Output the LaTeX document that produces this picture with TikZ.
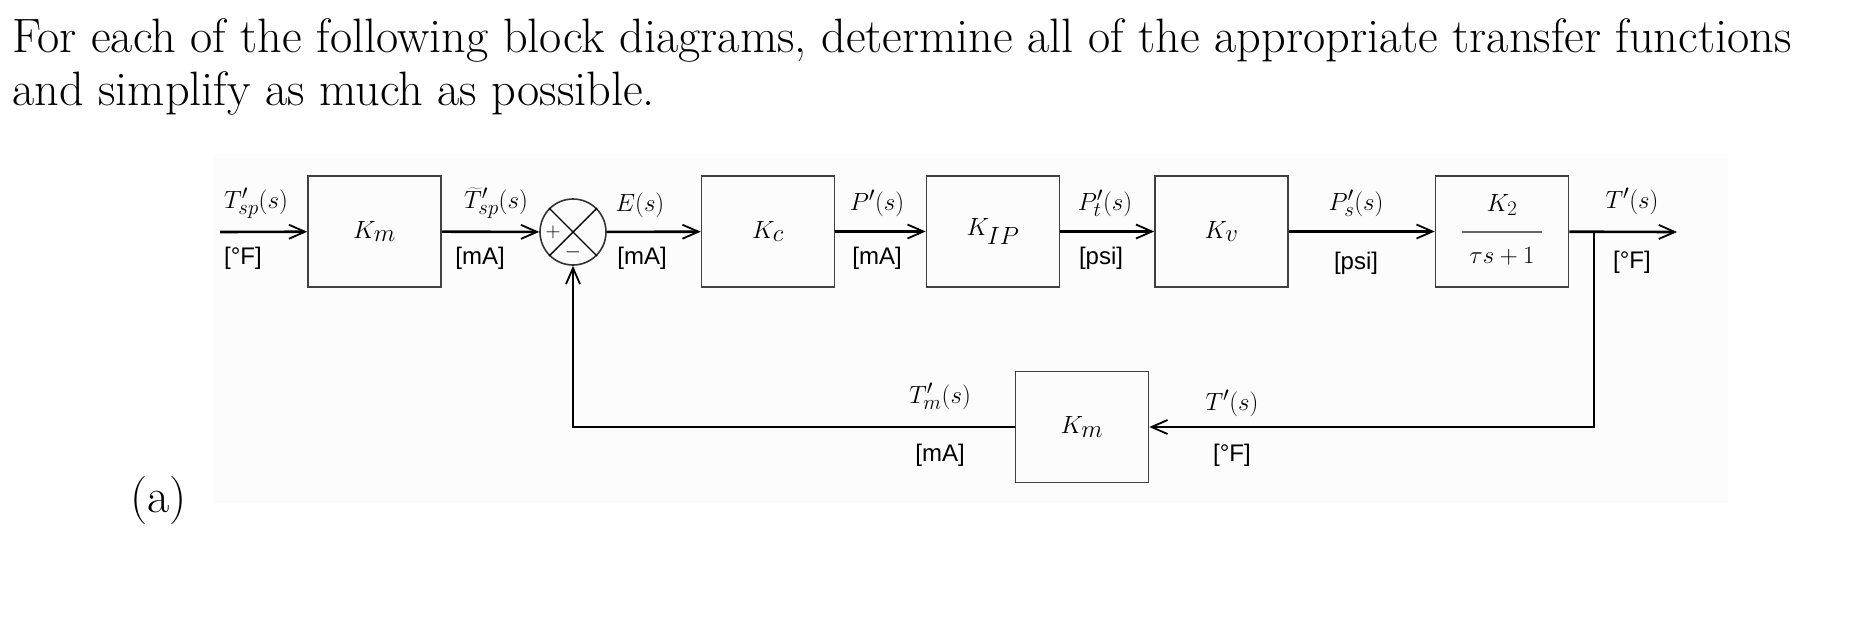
\documentclass[tikz,border=0pt]{standalone}
\usepackage{fontspec}
\usetikzlibrary{arrows.meta}
\newfontfamily\unitf{Liberation Sans}
\begin{document}
\begin{tikzpicture}[x=1pt,y=-1pt,
  blk/.style={draw=black!75,line width=1.6pt,minimum width=133pt,minimum height=111pt,inner sep=0pt,font=\fontsize{38}{42}\selectfont},
  sig/.style={line width=2.6pt,-{Straight Barb[length=16pt,width=14pt,line width=1.8pt]}},
  lab/.style={font=\fontsize{28}{32}\selectfont,inner sep=0pt},
  unit/.style={font=\unitf\fontsize{24}{28}\selectfont,inner sep=0pt},
  txt/.style={font=\fontsize{48.3}{56}\selectfont,inner sep=0pt,anchor=base west}]
\useasboundingbox (0,0) rectangle (1852,633);
\fill[black!1] (213,154) rectangle (1728,503);
\node[txt] (t1) at (12,52) {For each of the following block diagrams, determine all of the appropriate transfer functions};
\node[txt] (t2) at (12,105) {and simplify as much as possible.};
\node[txt] (ta) at (130,512) {(a)};
% blocks
\node[blk] (km1) at (374.5,231.5) {$K_m$};
\node[draw=black!80,line width=1.6pt,circle,minimum size=66pt,inner sep=0pt] (sum) at (573,232) {};
\draw[line width=1.4pt] (sum.north west) -- (sum.south east) (sum.north east) -- (sum.south west);
\node[font=\fontsize{20}{22}\selectfont] (plus) at (553,232) {$+$};
\node[font=\fontsize{20}{22}\selectfont] (minus) at (573,252) {$-$};
\node[blk] (kc) at (768,231.5) {$K_c$};
\node[blk] (kip) at (993,231.5) {$K_{IP}$};
\node[blk] (kv) at (1221.5,231.5) {$K_v$};
\node[blk] (k2) at (1502,231.5) {};
\node[font=\fontsize{32}{36}\selectfont,inner sep=0pt] (k2n) at (1502,205) {$K_2$};
\draw[black!60,line width=1.6pt] (1462,232) -- (1542,232);
\node[font=\fontsize{27}{30}\selectfont,inner sep=0pt] (k2d) at (1502,256) {$\tau s + 1$};
\node[blk] (km2) at (1082,427) {$K_m$};
% signals
\coordinate (in) at (220,232);
\coordinate (br) at (1594,232);
\coordinate (out) at (1677,232);
\coordinate (br2) at (1594,427);
\coordinate (fb) at (573,427);
\draw[sig] (in) -- (km1);
\draw[sig] (km1) -- (sum);
\draw[sig] (sum) -- (kc);
\draw[sig] (kc) -- (kip);
\draw[sig] (kip) -- (kv);
\draw[sig] (kv) -- (k2);
\draw[sig] (k2) -- (out);
\draw[sig] (br) -- (br2) -- (km2);
\draw[sig] (km2) -- (fb) -- (sum);
% labels
\node[lab] at (256,203) {$T'_{sp}(s)$};
\node[unit] at (243,258) {[°F]};
\node[lab] at (496,203) {$\widetilde{T}'_{sp}(s)$};
\node[unit] at (480,258) {[mA]};
\node[lab] at (640,205) {$E(s)$};
\node[unit] at (642,258) {[mA]};
\node[lab] at (877,203) {$P'(s)$};
\node[unit] at (877,258) {[mA]};
\node[lab] at (1105,203) {$P'_t(s)$};
\node[unit] at (1101,258) {[psi]};
\node[lab] at (1356,203) {$P'_s(s)$};
\node[unit] at (1356,263) {[psi]};
\node[lab] at (1632,201) {$T'(s)$};
\node[unit] at (1632,262) {[°F]};
\node[lab] at (940,396) {$T'_m(s)$};
\node[unit] at (940,455) {[mA]};
\node[lab] at (1232,403) {$T'(s)$};
\node[unit] at (1232,455) {[°F]};
\end{tikzpicture}
\end{document}
